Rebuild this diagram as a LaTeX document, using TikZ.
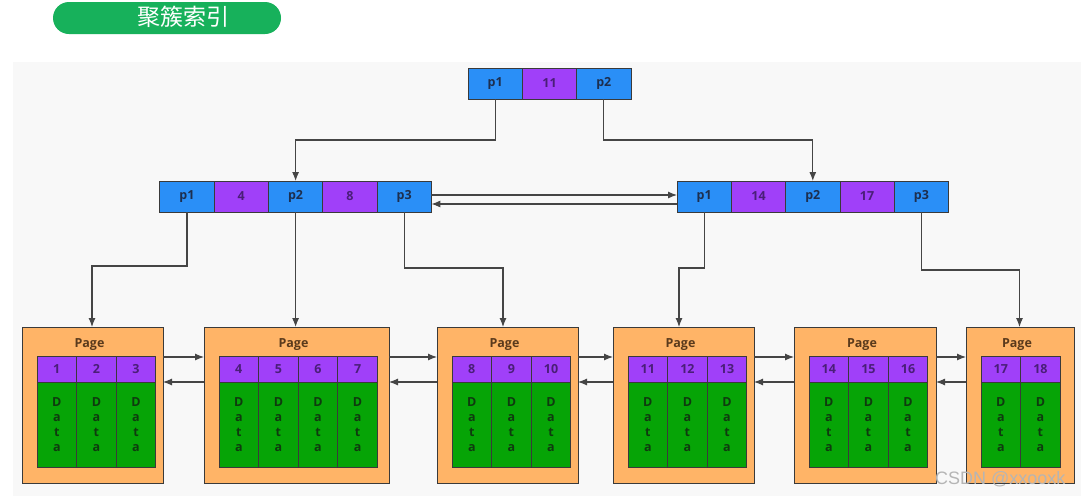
\documentclass[tikz,border=0pt]{standalone}
\usepackage{fontspec}
\setmainfont{Open Sans}
\newfontfamily\cjkfont{Noto Sans CJK SC}
\newfontfamily\markfont{Liberation Sans}
\usetikzlibrary{positioning,arrows.meta}
\definecolor{ptrblue}{HTML}{2A8FF7}
\definecolor{keypurple}{HTML}{A040F9}
\definecolor{pageorange}{HTML}{FFB467}
\definecolor{datagreen}{HTML}{06A406}
\definecolor{pillgreen}{HTML}{17B15B}
\definecolor{panel}{HTML}{F8F8F8}
\definecolor{edge}{HTML}{3A3A3A}
\definecolor{linkgray}{HTML}{454545}
\definecolor{ptrtext}{HTML}{1D2F4F}
\definecolor{keytext}{HTML}{4A1E78}
\definecolor{datatext}{HTML}{0F3A0F}
\definecolor{pagetext}{HTML}{5A3A1C}
\definecolor{markgray}{HTML}{B5B5B5}

\tikzset{
  cell/.style={draw=edge, line width=0.9pt, inner sep=0pt, outer sep=0pt,
    font=\bfseries\fontsize{12.5}{14}\selectfont},
  ptrcell/.style={cell, fill=ptrblue, text=ptrtext, minimum width=54.3pt, minimum height=31pt},
  keycell/.style={cell, fill=keypurple, text=keytext, minimum width=54.3pt, minimum height=31pt},
  pkey/.style={cell, fill=keypurple, text=keytext, minimum width=39.6pt, minimum height=26pt},
  pdata/.style={cell, fill=datagreen, text=datatext, minimum width=39.6pt, minimum height=85pt,
    align=center, font=\bfseries\fontsize{12.5}{15}\selectfont},
  pagebox/.style={draw=edge, line width=0.9pt, fill=pageorange, minimum height=156pt,
    inner sep=0pt, outer sep=0pt},
  pagelabel/.style={text=pagetext, font=\bfseries\fontsize{12.5}{14}\selectfont},
  link/.style={draw=linkgray, line width=1.1pt, -{Latex[length=9pt,width=7pt]}},
}

\begin{document}
\begin{tikzpicture}[x=1pt,y=-1pt]
\fill[white] (0,0) rectangle (1081,496);
\useasboundingbox (0,0) rectangle (1081,496);
\fill[panel] (13,62) rectangle (1081,496);

% title
\node[fill=pillgreen, rounded corners=16pt, minimum width=228pt, minimum height=32pt] (title) at (167,18) {};
\node[text=white, font=\cjkfont\fontsize{23}{23}\selectfont] (titletext) at (183,17) {聚簇索引};

% root
\node[ptrcell] (T1) at (495.2,83.5) {p1};
\node[keycell, right=0pt of T1] (T2) {11};
\node[ptrcell, right=0pt of T2] (T3) {p2};

% second level
\node[ptrcell] (L1) at (187,196.5) {p1};
\node[keycell, right=0pt of L1] (L2) {4};
\node[ptrcell, right=0pt of L2] (L3) {p2};
\node[keycell, right=0pt of L3] (L4) {8};
\node[ptrcell, right=0pt of L4] (L5) {p3};

\node[ptrcell] (R1) at (704.2,196.5) {p1};
\node[keycell, right=0pt of R1] (R2) {14};
\node[ptrcell, right=0pt of R2] (R3) {p2};
\node[keycell, right=0pt of R3] (R4) {17};
\node[ptrcell, right=0pt of R4] (R5) {p3};

% leaf pages
\foreach \pg/\px/\pw/\first/\cols in {1/22/141/1/3, 2/204/185/4/4, 3/437/141/8/3,
    4/613/141/11/3, 5/794/142/14/3, 6/966/108/17/2}{
  \node[pagebox, minimum width=\pw pt, anchor=north west] (pg\pg) at (\px,327) {};
  \node[pagelabel] (lab\pg) at ([xshift=-3pt,yshift=-18pt]pg\pg.north) {Page};
  \foreach \c in {1,...,\cols}{
    \pgfmathtruncatemacro\k{\first+\c-1}
    \node[pkey, anchor=north west] (k\k) at (\px+15+\c*39.6-39.6,356) {\k};
    \node[pdata, below=0pt of k\k] (d\k) {D\\a\\t\\a};
  }
}

% root -> second level
\draw[link] (T1.south) -- ++(0,41) -| (L3.north);
\draw[link] (T3.south) -- ++(0,41) -| (R3.north);

% sibling pointers of the second level
\draw[link] ([yshift=1.5pt]L5.east) -- ([yshift=1.5pt]R1.west);
\draw[link] ([yshift=-7.5pt]R1.west) -- ([yshift=-7.5pt]L5.east);

% second level -> pages
\draw[link] (L1.south) -- ++(0,54) -| ([xshift=-0.5pt]pg1.north);
\draw[link] (L3.south) -- (L3.south |- pg2.north);
\draw[link] (L5.south) -- ++(0,56) -| ([xshift=-4.5pt]pg3.north);
\draw[link] (R1.south) -- ++(0,56) -| ([xshift=-4.5pt]pg4.north);
\draw[link] (R5.south) -- ++(0,58) -| ([xshift=-0.5pt]pg6.north);

% links between pages
\foreach \a/\b in {1/2, 2/3, 3/4, 4/5, 5/6}{
  \draw[link] ([yshift=-30pt]pg\a.north east) -- ([yshift=-30pt]pg\b.north west);
  \draw[link] ([yshift=-55pt]pg\b.north west) -- ([yshift=-55pt]pg\a.north east);
}

\node[text=markgray, anchor=east, font=\markfont\fontsize{18}{18}\selectfont] (mark) at (1069,479) {CSDN @xxooxk};
\end{tikzpicture}
\end{document}
